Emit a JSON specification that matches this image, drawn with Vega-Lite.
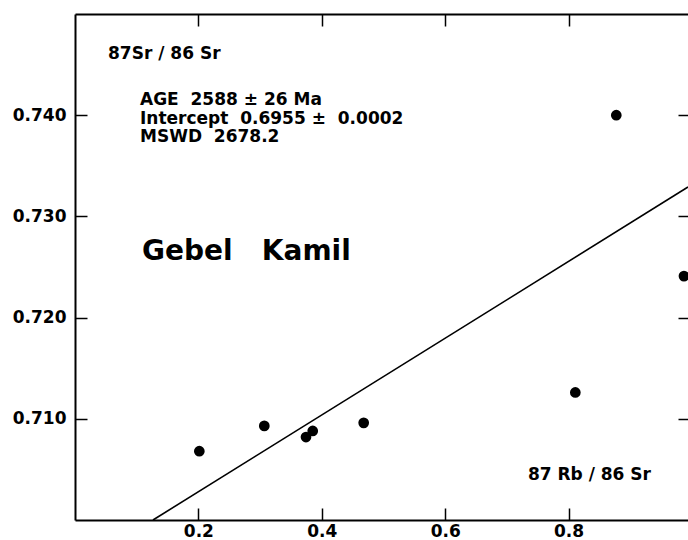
{
  "$schema": "https://vega.github.io/schema/vega-lite/v6.json",
  "width": 613,
  "height": 506,
  "autosize": {"type": "none"},
  "padding": {"left": 75, "top": 14, "right": 0, "bottom": 20},
  "background": "white",
  "config": {
    "view": {"stroke": null},
    "font": "DejaVu Sans",
    "axis": {
      "grid": false,
      "domainColor": "black",
      "domainWidth": 2,
      "tickColor": "black",
      "tickWidth": 1.5,
      "labelColor": "black",
      "labelFont": "DejaVu Sans",
      "labelFontSize": 17,
      "labelFontWeight": "bold",
      "title": null
    }
  },
  "resolve": {"axis": {"x": "independent", "y": "independent"}},
  "layer": [
    {
      "data": {"values": [
        {"rbsr": 0.2015, "srsr": 0.7068},
        {"rbsr": 0.3068, "srsr": 0.7093},
        {"rbsr": 0.3744, "srsr": 0.7082},
        {"rbsr": 0.3853, "srsr": 0.7088},
        {"rbsr": 0.4679, "srsr": 0.7096},
        {"rbsr": 0.8109, "srsr": 0.7126},
        {"rbsr": 0.8773, "srsr": 0.7400},
        {"rbsr": 0.9870, "srsr": 0.7241}
      ]},
      "mark": {"type": "circle", "size": 115, "color": "black", "opacity": 1},
      "encoding": {
        "x": {"field": "rbsr", "type": "quantitative",
          "scale": {"domain": [0, 0.99352], "nice": false, "zero": false},
          "axis": {"orient": "bottom", "values": [0.2, 0.4, 0.6, 0.8], "format": ".1f", "tickSize": -12, "labelPadding": 15}},
        "y": {"field": "srsr", "type": "quantitative",
          "scale": {"domain": [0.7, 0.75], "nice": false, "zero": false},
          "axis": {"orient": "left", "values": [0.71, 0.72, 0.73, 0.74], "format": ".3f", "tickSize": -12, "labelPadding": 21}}
      }
    },
    {
      "data": {"values": [
        {"rbsr": 0.1264, "srsr": 0.7000},
        {"rbsr": 0.99352, "srsr": 0.73290}
      ]},
      "mark": {"type": "line", "color": "black", "strokeWidth": 1.6},
      "encoding": {
        "x": {"field": "rbsr", "type": "quantitative",
          "axis": {"orient": "top", "values": [0.2, 0.4, 0.6, 0.8], "labels": false, "tickSize": -12}},
        "y": {"field": "srsr", "type": "quantitative",
          "axis": {"orient": "right", "values": [0.71, 0.72, 0.73, 0.74], "labels": false, "domain": false, "tickSize": -10}}
      }
    },
    {
      "data": {"values": [
        {"rbsr": 0.0535, "srsr": 0.7460, "label": "87Sr / 86 Sr"},
        {"rbsr": 0.1053, "srsr": 0.74148, "label": "AGE\u00a0 2588 ± 26 Ma"},
        {"rbsr": 0.1053, "srsr": 0.73966, "label": "Intercept\u00a0 0.6955 ±\u00a0 0.0002"},
        {"rbsr": 0.1053, "srsr": 0.73788, "label": "MSWD\u00a0 2678.2"},
        {"rbsr": 0.734, "srsr": 0.70445, "label": "87 Rb / 86 Sr"}
      ]},
      "mark": {"type": "text", "align": "left", "baseline": "middle", "fontSize": 17, "fontWeight": "bold", "font": "DejaVu Sans", "color": "black"},
      "encoding": {
        "x": {"field": "rbsr", "type": "quantitative", "axis": null},
        "y": {"field": "srsr", "type": "quantitative", "axis": null},
        "text": {"field": "label"}
      }
    },
    {
      "data": {"values": [
        {"rbsr": 0.1086, "srsr": 0.72651, "label": "Gebel\u00a0\u00a0 Kamil"}
      ]},
      "mark": {"type": "text", "align": "left", "baseline": "middle", "fontSize": 28, "fontWeight": "bold", "font": "DejaVu Sans", "color": "black"},
      "encoding": {
        "x": {"field": "rbsr", "type": "quantitative", "axis": null},
        "y": {"field": "srsr", "type": "quantitative", "axis": null},
        "text": {"field": "label"}
      }
    }
  ]
}
